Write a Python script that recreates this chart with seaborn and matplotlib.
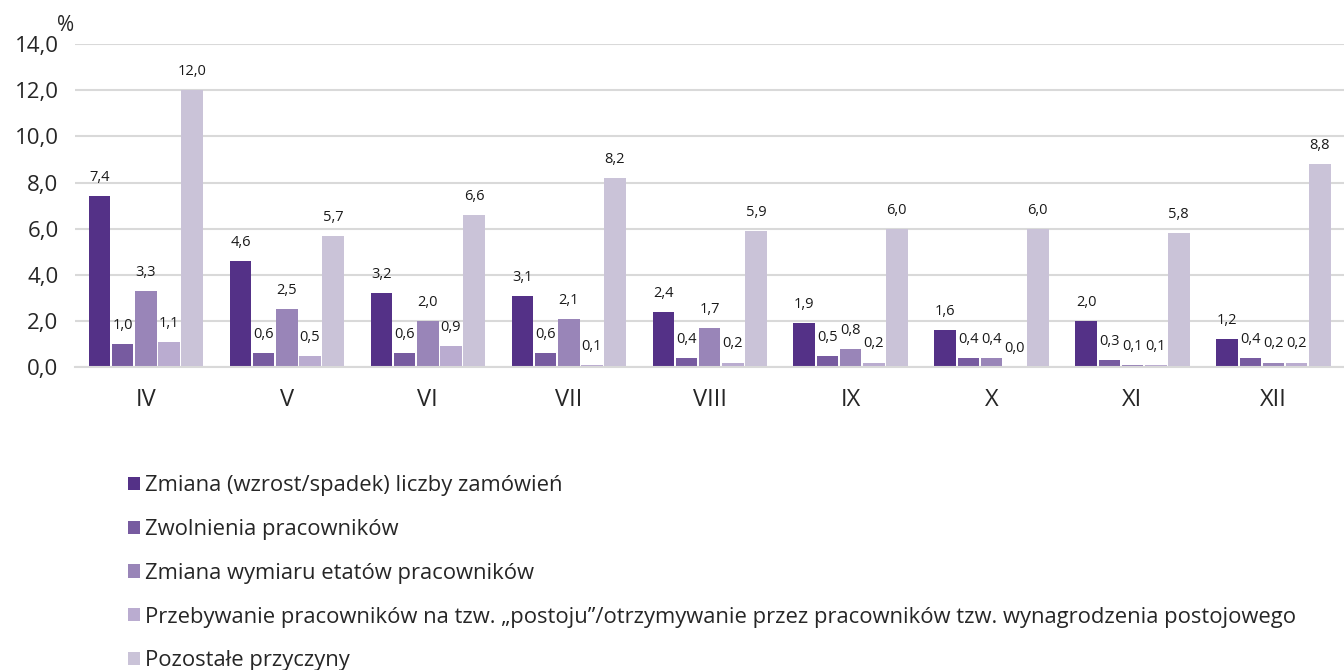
import numpy as np
import pandas as pd
import seaborn as sns
import matplotlib.pyplot as plt

months = ["IV", "V", "VI", "VII", "VIII", "IX", "X", "XI", "XII"]
series_names = [
    "Zmiana (wzrost/spadek) liczby zamówień",
    "Zwolnienia pracowników",
    "Zmiana wymiaru etatów pracowników",
    "Przebywanie pracowników na tzw. „postoju”/otrzymywanie przez pracowników tzw. wynagrodzenia postojowego",
    "Pozostałe przyczyny",
]
zamowienia = [7.4, 4.6, 3.2, 3.1, 2.4, 1.9, 1.6, 2.0, 1.2]
zwolnienia = [1.0, 0.6, 0.6, 0.6, 0.4, 0.5, 0.4, 0.3, 0.4]
wymiar_etatow = [3.3, 2.5, 2.0, 2.1, 1.7, 0.8, 0.4, 0.1, 0.2]
postoj = [1.1, 0.5, 0.9, 0.1, 0.2, 0.2, 0.0, 0.1, 0.2]
pozostale = [12.0, 5.7, 6.6, 8.2, 5.9, 6.0, 6.0, 5.8, 8.8]
colors = ["#512395", "#7550ab", "#977cc0", "#b9a6d6", "#c9bfdb"]

values = [zamowienia, zwolnienia, wymiar_etatow, postoj, pozostale]
df = pd.DataFrame({
    "month": months * len(series_names),
    "series": np.repeat(series_names, len(months)),
    "value": np.concatenate(values),
})

sns.set_style("white")
plt.rcParams["font.family"] = ["Open Sans", "DejaVu Sans"]

fig = plt.figure(figsize=(13.44, 6.70), dpi=100)
ax = fig.add_axes([0.056, 0.452, 0.944, 0.482])

sns.barplot(data=df, x="month", y="value", hue="series", order=months,
            hue_order=series_names, palette=colors, width=0.82, gap=0.06,
            linewidth=0, ax=ax, legend=True)

# etykiety wartości z przecinkiem dziesiętnym
for cont, vals in zip(ax.containers, values):
    ax.bar_label(cont, labels=[f"{v:.1f}".replace(".", ",") for v in vals],
                 padding=8, fontsize=10.5, color="#1a1a1a")

ax.set_ylim(0, 14)
ax.set_xlim(-0.5, 8.5)
ticks = np.arange(0, 15, 2)
ax.set_yticks(ticks)
ax.set_yticklabels([f"{t:.1f}".replace(".", ",") for t in ticks], fontsize=16)
ax.tick_params(axis="x", labelsize=17, length=0, pad=15)
ax.tick_params(axis="y", length=0, pad=12)
ax.yaxis.grid(True, color="#d9d9d9", linewidth=1.5)
ax.set_axisbelow(True)
for s in ["left", "right", "top"]:
    ax.spines[s].set_visible(False)
ax.spines["bottom"].set_color("#d9d9d9")
ax.spines["bottom"].set_linewidth(1.5)
ax.set_xlabel("")
ax.set_ylabel("")
fig.text(0.049, 0.962, "%", fontsize=15, ha="center", va="center")

handles, labels = ax.get_legend_handles_labels()
ax.legend(handles, labels, loc="upper left", bbox_to_anchor=(0.0885, 0.304),
          bbox_transform=fig.transFigure, frameon=False, fontsize=15.8,
          handlelength=0.55, handleheight=0.55, handletextpad=0.25,
          labelspacing=1.04, borderaxespad=0)

fig.savefig("out.png", dpi=100)
